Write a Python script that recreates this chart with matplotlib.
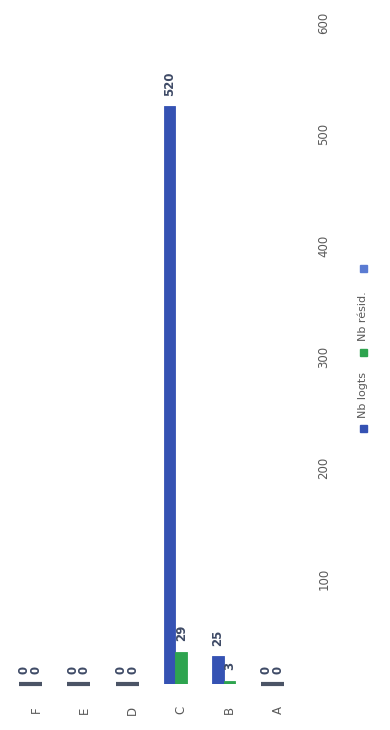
import matplotlib
matplotlib.use("Agg")
import matplotlib.pyplot as plt
from matplotlib.patches import Rectangle
import numpy as np

# categories, in drawing order (left to right on the page)
categories = ["F", "E", "D", "C", "B", "A"]
nb_logts = [0, 0, 0, 520, 25, 0]
nb_resid = [0, 0, 0, 29, 3, 0]
series_names = ["Nb logts", "Nb résid.", ""]
series_colors = ["#3552b3", "#2ea44f", "#5a7bd2"]
value_ticks = [100, 200, 300, 400, 500, 600]

label_color = "#3e4a66"
tick_color = "#595959"

fig = plt.figure(figsize=(3.9, 7.3), dpi=100)
ax = fig.add_axes([0.0303, 0.063, 0.7446, 0.9137])

x = np.arange(len(categories))
w = 0.238
series = [nb_logts, nb_resid]
for k, vals in enumerate(series):
    xs = x + (k - 1) * w
    bars = ax.bar(xs, vals, width=w, color=series_colors[k],
                  edgecolor=series_colors[k], linewidth=0.6)
    for xi, v in zip(xs, vals):
        ax.annotate(str(v), (xi, v), xytext=(0, 7.5), textcoords="offset points",
                    rotation=90, ha="center", va="bottom", fontsize=8.5,
                    fontweight="bold", color=label_color)
        if v == 0:
            ax.hlines(0, xi - w / 2, xi + w / 2, color="#4b5466", lw=3,
                      clip_on=False)

ax.set_xlim(-0.5, len(categories) - 0.5)
ax.set_ylim(0, 600)
ax.set_xticks(x)
ax.set_xticklabels(categories)
ax.set_yticks(value_ticks)
ax.yaxis.tick_right()
ax.tick_params(axis="y", length=0, pad=11, labelrotation=90,
               labelsize=8.5, labelcolor=tick_color)
ax.tick_params(axis="x", length=0, pad=16, labelrotation=90,
               labelsize=8.5, labelcolor=tick_color)
for s in ax.spines.values():
    s.set_visible(False)

# legend, laid out bottom to top along the right edge
leg_x = 363 / 390
sq = 7
items = [(428, 395), (352, 316), (268, None)]
for (sy, ty), name, col in zip(items, series_names, series_colors):
    fig.patches.append(Rectangle(((363 - sq / 2) / 390, (730 - sy - sq / 2) / 730),
                                 sq / 390, sq / 730, transform=fig.transFigure,
                                 color=col))
    if name:
        fig.text(leg_x, (730 - ty) / 730, name, rotation=90, ha="center",
                 va="center", fontsize=8, color=tick_color)

fig.savefig("out.png", dpi=100)
